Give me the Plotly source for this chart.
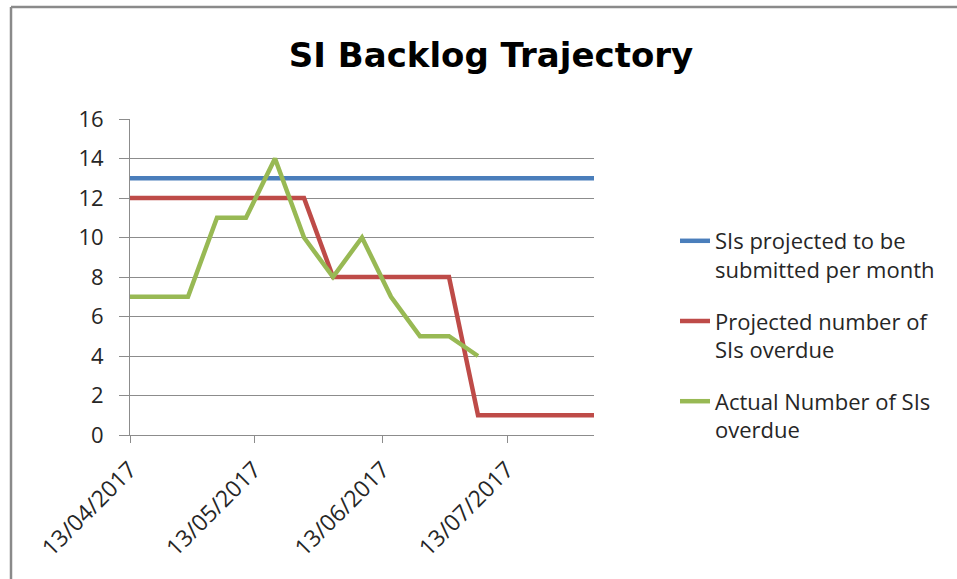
import plotly.graph_objects as go

dates = ["2017-04-13", "2017-04-20", "2017-04-27", "2017-05-04", "2017-05-11",
         "2017-05-18", "2017-05-25", "2017-06-01", "2017-06-08", "2017-06-15",
         "2017-06-22", "2017-06-29", "2017-07-06", "2017-07-13", "2017-07-20",
         "2017-07-27", "2017-08-03"]
projected_submitted = [13, 13, 13, 13, 13, 13, 13, 13, 13, 13, 13, 13, 13, 13, 13, 13, 13]
projected_overdue = [12, 12, 12, 12, 12, 12, 12, 8, 8, 8, 8, 8, 1, 1, 1, 1, 1]
actual_overdue = [7, 7, 7, 11, 11, 14, 10, 8, 10, 7, 5, 5, 4]
tick_dates = ["2017-04-13", "2017-05-13", "2017-06-13", "2017-07-13"]
tick_labels = ["13/04/2017", "13/05/2017", "13/06/2017", "13/07/2017"]
y_ticks = [0, 2, 4, 6, 8, 10, 12, 14, 16]

names = ["SIs projected to be<br>submitted per month",
         "Projected number of<br>SIs overdue",
         "Actual Number of SIs<br>overdue"]
colors = ["#4A7EBB", "#BE4B48", "#98B954"]

FONT = "Open Sans"
fig = go.Figure()
series = [projected_submitted, projected_overdue, actual_overdue]
for i, (vals, name, col) in enumerate(zip(series, names, colors)):
    fig.add_trace(go.Scatter(
        x=dates[:len(vals)], y=vals, mode="lines", name=name,
        legendgroup=f"g{i}",
        line=dict(color=col, width=4.5),
    ))

L, R, T, B = 130, 594, 119, 435
W, H = 957, 579
pw, ph = R - L, B - T

def px_x(x):
    return (x - L) / pw

def px_y(y):
    return (B - y) / ph

border = dict(color="#8a8a8a", width=2.5)

fig.update_layout(
    width=W, height=H,
    margin=dict(l=L, r=W - R, t=T, b=H - B, autoexpand=False),
    paper_bgcolor="white", plot_bgcolor="white",
    font=dict(family=FONT, color="#262626", size=20),
    title=dict(text="<b>SI Backlog Trajectory</b>", x=491 / W, xref="container",
               xanchor="center", y=1 - 55 / H, yref="container", yanchor="middle",
               font=dict(family="DejaVu Sans", size=34, color="#000000")),
    showlegend=True,
    legend=dict(x=px_x(675), y=px_y(220), xanchor="left", yanchor="top",
                font=dict(family=FONT, size=22, color="#262626"),
                valign="top", traceorder="grouped", tracegroupgap=20,
                bgcolor="rgba(0,0,0,0)"),
    xaxis=dict(type="date", range=[dates[0], dates[-1]],
               tickvals=tick_dates, ticktext=tick_labels, tickangle=-45,
               ticks="outside", ticklen=7, tickcolor="#8c8c8c", tickwidth=1,
               ticklabelstandoff=4,
               showgrid=False, showline=True, linecolor="#8c8c8c", linewidth=1,
               zeroline=False, tickfont=dict(family=FONT, size=23, color="#262626")),
    yaxis=dict(range=[0, 16], tickvals=y_ticks, ticks="outside", ticklen=10,
               ticklabelstandoff=11,
               tickcolor="#8c8c8c", showgrid=True, gridcolor="#8c8c8c", gridwidth=1,
               showline=True, linecolor="#8c8c8c", linewidth=1, zeroline=False,
               tickfont=dict(family=FONT, size=22, color="#262626")),
    shapes=[
        dict(type="line", xref="paper", yref="paper",
             x0=px_x(11), x1=px_x(W + 5), y0=px_y(7), y1=px_y(7), line=border),
        dict(type="line", xref="paper", yref="paper",
             x0=px_x(11), x1=px_x(11), y0=px_y(7), y1=px_y(H + 5), line=border),
    ],
)

fig.write_html("out.html", config={"displayModeBar": False},
               post_script="document.body.style.margin='0';document.body.style.overflow='hidden';")
